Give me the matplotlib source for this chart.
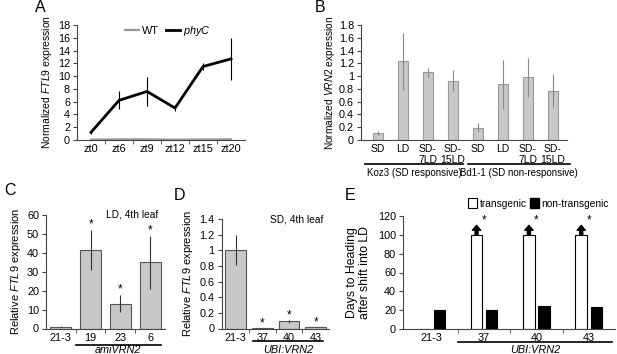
import numpy as np
import matplotlib
matplotlib.use("Agg")
import matplotlib.pyplot as plt
from matplotlib.patches import Patch
from matplotlib.lines import Line2D
from matplotlib.transforms import blended_transform_factory

plt.rcParams['font.family'] = ['Liberation Sans', 'DejaVu Sans']
plt.rcParams['mathtext.fontset'] = 'custom'
plt.rcParams['mathtext.rm'] = 'Liberation Sans'
plt.rcParams['mathtext.it'] = 'Liberation Sans:italic'
plt.rcParams['font.size'] = 7.8

# panel A
a_times = ["zt0", "zt6", "zt9", "zt12", "zt15", "zt20"]
a_wt = [0.05, 0.1, 0.1, 0.05, 0.08, 0.1]
a_phyc = [1.2, 6.2, 7.6, 5.0, 11.5, 12.7]
a_phyc_err = [0.3, 1.4, 2.2, 0.5, 0.6, 3.3]

# panel B
b_labels = ["SD", "LD", "SD-\n7LD", "SD-\n15LD", "SD", "LD", "SD-\n7LD", "SD-\n15LD"]
b_vals = [0.11, 1.23, 1.06, 0.93, 0.19, 0.87, 0.98, 0.77]
b_err = [0.03, 0.45, 0.07, 0.16, 0.07, 0.38, 0.30, 0.26]
b_groups = ["Koz3 (SD responsive)", "Bd1-1 (SD non-responsive)"]

# panel C
c_labels = ["21-3", "19", "23", "6"]
c_vals = [1.0, 41.5, 13.2, 35.0]
c_err = [0.3, 10.5, 4.6, 14.0]
c_sig = [False, True, True, True]

# panel D
d_labels = ["21-3", "37", "40", "43"]
d_vals = [1.0, 0.01, 0.09, 0.015]
d_err = [0.19, 0.0, 0.02, 0.0]
d_sig = [False, True, True, True]

# panel E
e_labels = ["21-3", "37", "40", "43"]
e_trans = [0, 100, 100, 100]
e_nontrans = [20, 20, 24, 23]
e_sig = [False, True, True, True]

W, H = 617, 354
fig = plt.figure(figsize=(W / 100, H / 100), dpi=100)


def px_axes(left, right, bottom, top):
    return fig.add_axes([left / W, 1 - bottom / H, (right - left) / W, (bottom - top) / H])


def style(ax, n, xlo, xhi):
    for s in ["top", "right"]:
        ax.spines[s].set_visible(False)
    for s in ["left", "bottom"]:
        ax.spines[s].set_color("#444")
        ax.spines[s].set_linewidth(0.8)
    ax.set_xlim(xlo, xhi)
    ax.set_xticks(range(n))
    ax.set_xticks(np.arange(n - 1) + 0.5, minor=True)
    ax.tick_params(axis="x", which="major", length=0, pad=3)
    ax.tick_params(axis="x", which="minor", length=3, color="#444")
    ax.tick_params(axis="y", length=3, color="#444", pad=2)


def yfmt(ax, ticks):
    ax.set_yticks(ticks)
    ax.set_yticklabels([f"{np.round(t, 2):g}" for t in ticks])
    ax.set_ylim(ticks[0], ticks[-1])


def ypx(y):
    return 1 - y / H


def under(ax, x0, x1, yline, label, ytext, italic=True, fs=7.8):
    tr = blended_transform_factory(ax.transData, fig.transFigure)
    ax.add_line(Line2D([x0, x1], [ypx(yline), ypx(yline)], transform=tr, color="k",
                       lw=1.2, clip_on=False))
    ax.text((x0 + x1) / 2, ypx(ytext), label, transform=tr, ha="center", va="center",
            fontsize=fs, style="italic" if italic else "normal")


# ---- A
ax = px_axes(77, 245, 140, 25)
x = np.arange(len(a_times))
ax.plot(x, a_wt, color="#999", lw=1.6, label="WT")
ax.plot(x, a_phyc, color="k", lw=2, label=r"$\it{phyC}$")
ax.errorbar(x, a_phyc, yerr=a_phyc_err, fmt="none", ecolor="k", elinewidth=0.8)
style(ax, len(a_times), -0.5, 5.5)
ax.set_xticklabels(a_times)
yfmt(ax, np.arange(0, 19, 2))
ax.set_ylabel(r"Normalized $\it{FTL9}$ expression", labelpad=3, fontsize=7.5)
ax.legend(loc="center", bbox_to_anchor=(0.54, 0.948), ncol=2, frameon=False,
          handlelength=1.3, handletextpad=0.3, columnspacing=0.6, fontsize=7.8)

# ---- B
ax = px_axes(361, 567, 140, 25)
x = np.arange(len(b_vals))
ax.bar(x, b_vals, width=0.4, color="#c8c8c8", edgecolor="#999", lw=0.8)
ax.errorbar(x, b_vals, yerr=b_err, fmt="none", ecolor="#888", elinewidth=0.8)
style(ax, len(b_vals), -0.67, 7.56)
ax.tick_params(axis="x", which="minor", length=0)
ax.set_xticklabels(b_labels, linespacing=1.15, fontsize=7.5)
yfmt(ax, np.arange(0, 1.81, 0.2))
ax.set_ylabel(r"Normalized $\it{VRN2}$ expression", labelpad=1.5, fontsize=7.3)
under(ax, -0.51, 3.41, 164, b_groups[0], 173, italic=False, fs=7)
under(ax, 3.61, 7.69, 164, b_groups[1], 173, italic=False, fs=7)

# ---- C
ax = px_axes(46, 165, 328.5, 215)
x = np.arange(len(c_vals))
ax.bar(x, c_vals, width=0.7, color="#c8c8c8", edgecolor="#555", lw=0.8)
ax.errorbar(x, c_vals, yerr=c_err, fmt="none", ecolor="#333", elinewidth=0.8)
for xi, v, e, s in zip(x, c_vals, c_err, c_sig):
    if s:
        ax.text(xi, v + e + 3, "*", ha="center", va="center", fontsize=8.5)
style(ax, len(c_vals), -0.5, 3.5)
ax.set_xticklabels(c_labels)
yfmt(ax, np.arange(0, 61, 10))
ax.set_ylabel(r"Relative $\it{FTL9}$ expression", labelpad=3, fontsize=8)
ax.text(2.4, 60, "LD, 4th leaf", ha="center", va="center", fontsize=7.3)
under(ax, 0.5, 3.35, 345, "amiVRN2", 350)

# ---- D
ax = px_axes(221.7, 329, 328.5, 219)
x = np.arange(len(d_vals))
ax.bar(x, d_vals, width=0.78, color="#c8c8c8", edgecolor="#555", lw=0.8)
ax.errorbar(x, d_vals, yerr=d_err, fmt="none", ecolor="#333", elinewidth=0.8)
for xi, v, e, s in zip(x, d_vals, d_err, d_sig):
    if s:
        ax.text(xi, v + e + 0.06, "*", ha="center", va="center", fontsize=8.5)
style(ax, len(d_vals), -0.52, 3.5)
ax.set_xticklabels(d_labels)
yfmt(ax, np.arange(0, 1.41, 0.2))
ax.set_ylabel(r"Relative $\it{FTL9}$ expression", labelpad=3, fontsize=8)
ax.text(2.29, 1.4, "SD, 4th leaf", ha="center", va="center", fontsize=7.3)
under(ax, 0.66, 3.27, 341, "UBI:VRN2", 350)

# ---- E
ax = px_axes(403, 615, 329, 216)
x = np.arange(len(e_trans))
ax.bar(x - 0.145, e_trans, width=0.22, color="white", edgecolor="k", lw=0.8,
       label="transgenic")
ax.bar(x + 0.145, e_nontrans, width=0.22, color="k", edgecolor="k", lw=0.8,
       label="non-transgenic")
for xi, v, s in zip(x, e_trans, e_sig):
    if s:
        ax.annotate("", xy=(xi - 0.145, v + 10), xytext=(xi - 0.145, v),
                    arrowprops=dict(facecolor="k", edgecolor="k", width=2.2,
                                    headwidth=6, headlength=3.5, shrink=0))
        ax.text(xi, v + 15, "*", ha="center", va="center", fontsize=8.5)
style(ax, len(e_trans), -0.55, 3.5)
ax.set_xticklabels(e_labels)
yfmt(ax, np.arange(0, 121, 20))
ax.set_ylabel("Days to Heading\nafter shift into LD", labelpad=5, fontsize=8.8,
              linespacing=1.1)
ax.legend(handles=[Patch(facecolor="white", edgecolor="k", lw=0.8),
                   Patch(facecolor="k", edgecolor="k")],
          labels=["transgenic", "non-transgenic"],
          loc="center", bbox_to_anchor=(0.64, 1.11), ncol=2, frameon=False,
          handlelength=0.9, handleheight=1.1, handletextpad=0.25, columnspacing=0.3,
          fontsize=7.3)
under(ax, 0.51, 3.45, 342, "UBI:VRN2", 350)

# panel letters
for letter, px, py in [("A", 40, 8), ("B", 320, 8), ("C", 10, 190),
                       ("D", 180, 195), ("E", 350, 196)]:
    fig.text(px / W, ypx(py), letter, fontsize=11.5, ha="center", va="center")

fig.savefig("out.png", dpi=100)
